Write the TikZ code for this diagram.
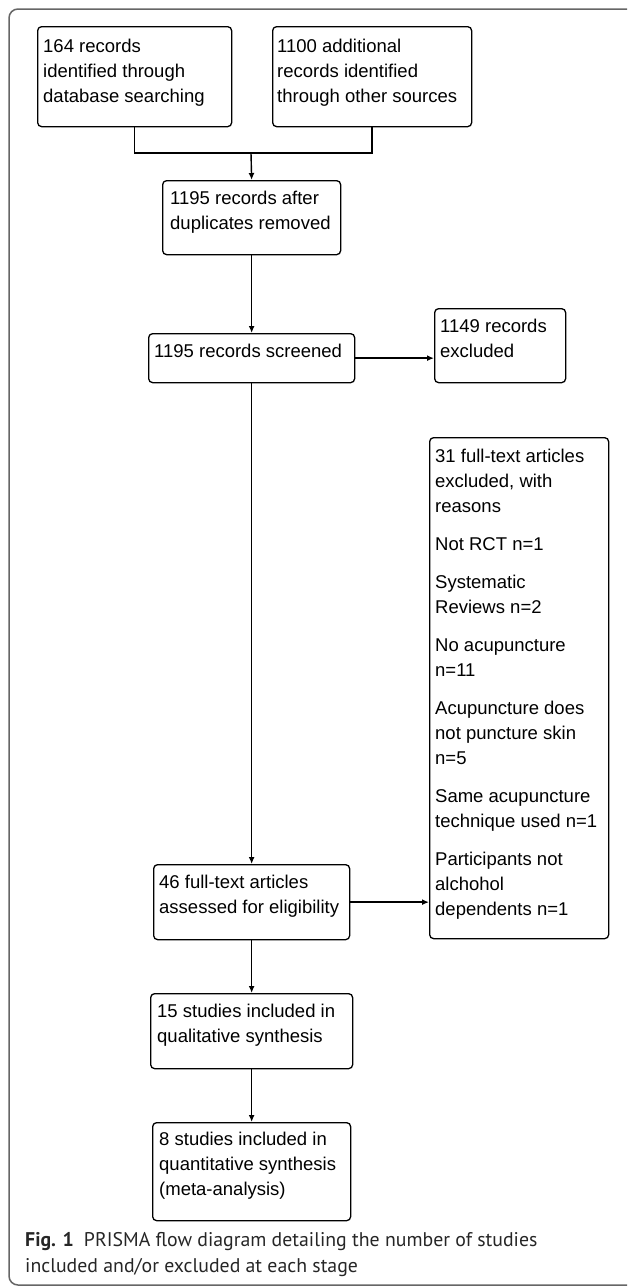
\documentclass[tikz,border=0pt]{standalone}
\usepackage{fontspec}
\setmainfont{Liberation Sans}
\newfontfamily\capfont{PT Sans}
\usetikzlibrary{arrows.meta}
\begin{document}
\begin{tikzpicture}[x=1pt,y=-1pt,
  box/.style={draw=black, line width=1.3pt, rounded corners=4pt, inner sep=0pt, anchor=north west},
  txt/.style={anchor=north west, inner sep=0pt, align=left, font=\fontsize{18.5}{25}\selectfont},
  arr/.style={line width=1.4pt, -{Latex[length=7pt,width=6pt]}},
  ln/.style={line width=1.4pt}]
\useasboundingbox (0,0) rectangle (627,1288);
\begin{scope}
  \clip (0,0) rectangle (627,1288);
  \draw[black!60, line width=1.5pt, rounded corners=9pt] (9,9) rectangle (660,1285);
\end{scope}

% boxes
\node[box, minimum width=194pt, minimum height=100pt] (b1) at (37,26) {};
\node[box, minimum width=199pt, minimum height=100pt] (b2) at (272,26) {};
\node[box, minimum width=178pt, minimum height=74pt]  (b3) at (162,180) {};
\node[box, minimum width=206pt, minimum height=49pt]  (b4) at (148,333) {};
\node[box, minimum width=131pt, minimum height=74pt]  (b5) at (434,308) {};
\node[box, minimum width=179pt, minimum height=501pt] (b6) at (429,437) {};
\node[box, minimum width=196pt, minimum height=75pt]  (b7) at (153,864) {};
\node[box, minimum width=202pt, minimum height=75pt]  (b8) at (150,993) {};
\node[box, minimum width=198pt, minimum height=98pt]  (b9) at (152,1122) {};

% texts
\node[txt] (t1) at ([shift={(6,13)}]b1.north west) {164 records\\identified through\\database searching};
\node[txt] (t2) at ([shift={(5,13)}]b2.north west) {1100 additional\\records identified\\through other sources};
\node[txt] (t3) at ([shift={(8,11)}]b3.north west) {1195 records after\\duplicates removed};
\node[txt] (t4) at ([shift={(6,11)}]b4.north west) {1195 records screened};
\node[txt] (t5) at ([shift={(6,11)}]b5.north west) {1149 records\\excluded};
\node[txt] (t6) at ([shift={(6,12)}]b6.north west) {31 full-text articles\\excluded, with\\reasons\\[13pt]Not RCT n=1\\[13pt]Systematic\\Reviews n=2\\[13pt]No acupuncture\\n=11\\[13pt]Acupuncture does\\not puncture skin\\n=5\\[13pt]Same acupuncture\\technique used n=1\\[13pt]Participants not\\alchohol\\dependents n=1};
\node[txt] (t7) at ([shift={(6,11)}]b7.north west) {46 full-text articles\\assessed for eligibility};
\node[txt] (t8) at ([shift={(7,11)}]b8.north west) {15 studies included in\\qualitative synthesis};
\node[txt] (t9) at ([shift={(7,10)}]b9.north west) {8 studies included in\\quantitative synthesis\\(meta-analysis)};

% connectors
\coordinate (j) at (251,153);
\draw[ln] (b1.south) |- (j) -| (b2.south);
\draw[arr] (j) -- (b3.north);
\draw[arr] (b3.south) -- (b4.north);
\draw[arr] (b4.east) -- (b4.east -| b5.west);
\draw[arr] (b4.south) -- (b7.north);
\draw[arr] (b7.east) -- (b7.east -| b6.west);
\draw[arr] (b7.south) -- (b8.north);
\draw[arr] (b8.south) -- (b9.north);

% caption
\node[anchor=west, inner sep=0pt, align=left, text=black!85, font=\capfont\fontsize{19.8}{26}\selectfont] (cap) at (25,1255)
  {\textbf{Fig. 1}\hspace{10pt}PRISMA flow diagram detailing the number of studies\\included and/or excluded at each stage};
\end{tikzpicture}
\end{document}
